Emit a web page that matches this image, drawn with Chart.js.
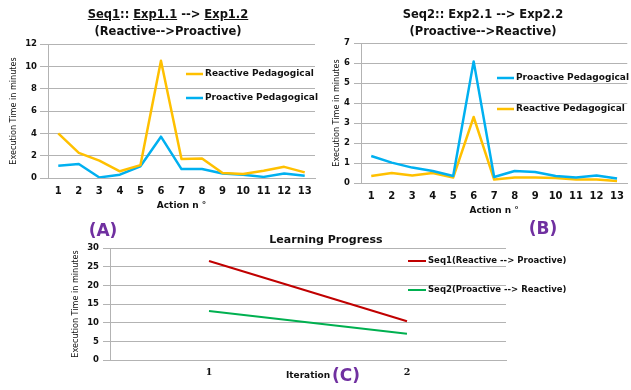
<!DOCTYPE html>
<html>
<head>
    <title>Execution time charts</title>
    <style>
        body { margin: 0; width: 631px; height: 390px; background: #fff; position: relative; overflow: hidden; font-family: 'DejaVu Sans', sans-serif; }
        .box { position: absolute; }
        .ttl { position: absolute; text-align: center; font-weight: bold; color: #111; white-space: nowrap; }
        .tag { position: absolute; text-align: center; font-weight: bold; color: #7030a0; font-size: 17px; line-height: 20px; }
    </style>
    <script src="https://cdn.jsdelivr.net/npm/chart.js@4.4.1/dist/chart.umd.min.js"></script>
</head>
<body>
    <div class="box" style="left:0;top:0"><canvas id="chartA" width="320" height="215"></canvas></div>
    <div class="box" style="left:320px;top:0"><canvas id="chartB" width="311" height="222"></canvas></div>
    <div class="box" style="left:60px;top:230px"><canvas id="chartC" width="571" height="160"></canvas></div>

    <div class="ttl" style="left:68px;top:6px;width:200px;font-size:11.5px;line-height:17px"><u>Seq1</u>:: <u>Exp1.1</u> --&gt; <u>Exp1.2</u><br>(Reactive--&gt;Proactive)</div>
    <div class="ttl" style="left:383px;top:6px;width:200px;font-size:11.5px;line-height:17px">Seq2:: Exp2.1 --&gt; Exp2.2<br>(Proactive--&gt;Reactive)</div>
    <div class="ttl" style="left:226px;top:233px;width:200px;font-size:11px;line-height:14px">Learning Progress</div>

    <div class="tag" style="left:73px;top:220px;width:60px">(A)</div>
    <div class="tag" style="left:513px;top:218px;width:60px">(B)</div>
    <div class="tag" style="left:316px;top:365px;width:60px">(C)</div>

    <script>
        // values (minutes)
        var actions = ['1', '2', '3', '4', '5', '6', '7', '8', '9', '10', '11', '12', '13'];
        var seq1Reactive = [4.0, 2.25, 1.55, 0.6, 1.15, 10.5, 1.7, 1.75, 0.45, 0.35, 0.65, 1.0, 0.5];
        var seq1Proactive = [1.1, 1.25, 0.05, 0.3, 1.05, 3.7, 0.8, 0.8, 0.4, 0.3, 0.1, 0.4, 0.2];
        var seq2Proactive = [1.35, 1.02, 0.77, 0.6, 0.35, 6.08, 0.3, 0.6, 0.55, 0.35, 0.27, 0.38, 0.22];
        var seq2Reactive = [0.35, 0.5, 0.37, 0.5, 0.27, 3.3, 0.17, 0.27, 0.28, 0.25, 0.18, 0.17, 0.1];
        var iterations = ['1', '2'];
        var seq1Progress = [26.5, 10.4];
        var seq2Progress = [13.1, 7.0];

        var orange = '#ffc000';
        var blue = '#00b0f0';
        var gridGray = '#b3b3b3';
        var ink = '#111';

        Chart.defaults.font.family = "'DejaVu Sans', sans-serif";
        Chart.defaults.color = ink;

        // legend drawn inside the plot, one row per dataset
        var inlineLegend = {
            id: 'inlineLegend',
            afterDraw: function (chart, args, opts) {
                var ctx = chart.ctx;
                ctx.save();
                ctx.font = opts.font;
                ctx.textBaseline = 'middle';
                chart.data.datasets.forEach(function (ds, i) {
                    var y = opts.y + i * opts.gap;
                    ctx.strokeStyle = ds.borderColor;
                    ctx.lineWidth = ds.borderWidth;
                    ctx.beginPath();
                    ctx.moveTo(opts.x, y);
                    ctx.lineTo(opts.x + opts.len, y);
                    ctx.stroke();
                    ctx.fillStyle = ink;
                    ctx.fillText(ds.label, opts.x + opts.len + 2, y);
                });
                ctx.restore();
            }
        };

        function line(label, data, color, width) {
            return {
                label: label, data: data, borderColor: color, backgroundColor: color,
                borderWidth: width, pointRadius: 0, tension: 0, fill: false, borderJoinStyle: 'round'
            };
        }

        var yTitleFont = { family: "'Liberation Sans Narrow', 'DejaVu Sans Condensed', sans-serif", size: 9 };

        function scales(o) {
            return {
                x: {
                    offset: true,
                    grid: { display: false, drawTicks: false, offset: true },
                    border: { display: true, color: gridGray },
                    ticks: { font: o.xFont, color: ink, padding: o.xPad, autoSkip: false, maxRotation: 0 },
                    title: { display: true, text: o.xTitle, color: ink, font: { weight: 'bold', size: 9 }, padding: { top: 0, bottom: o.xTitlePad } },
                    afterFit: function (s) { s.height = o.xHeight; }
                },
                y: {
                    min: 0, max: o.max,
                    grid: { color: gridGray, tickLength: o.tick },
                    border: { color: gridGray },
                    ticks: { stepSize: o.step, font: { weight: 'bold', size: 8.5 }, color: ink, padding: o.yPad },
                    title: { display: true, text: 'Execution Time in minutes', color: ink, font: yTitleFont, padding: { top: o.yTitlePad, bottom: 0 } },
                    afterFit: function (s) { s.width = o.yWidth; }
                }
            };
        }

        new Chart(document.getElementById('chartA'), {
            type: 'line',
            data: {
                labels: actions,
                datasets: [
                    line('Reactive Pedagogical', seq1Reactive, orange, 2.5),
                    line('Proactive Pedagogical', seq1Proactive, blue, 2.5)
                ]
            },
            options: {
                responsive: false, animation: false, devicePixelRatio: 1,
                layout: { padding: { top: 44, right: 5, left: 0, bottom: 0 } },
                scales: scales({ max: 12, step: 2, tick: 8, yPad: 3, yWidth: 48, yTitlePad: 8,
                    xFont: { weight: 'bold', size: 10 }, xPad: 7, xHeight: 37, xTitle: 'Action n °', xTitlePad: 4 }),
                plugins: {
                    legend: { display: false }, tooltip: { enabled: false },
                    inlineLegend: { x: 186, y: 74, gap: 24, len: 17, font: "bold 9px 'DejaVu Sans'" }
                }
            },
            plugins: [inlineLegend]
        });

        new Chart(document.getElementById('chartB'), {
            type: 'line',
            data: {
                labels: actions,
                datasets: [
                    line('Proactive Pedagogical', seq2Proactive, blue, 2.5),
                    line('Reactive Pedagogical', seq2Reactive, orange, 2.5)
                ]
            },
            options: {
                responsive: false, animation: false, devicePixelRatio: 1,
                layout: { padding: { top: 43, right: 0, left: 0, bottom: 0 } },
                scales: scales({ max: 7, step: 1, tick: 7, yPad: 4, yWidth: 41, yTitlePad: 11,
                    xFont: { weight: 'bold', size: 10 }, xPad: 7, xHeight: 39, xTitle: 'Action n °', xTitlePad: 6 }),
                plugins: {
                    legend: { display: false }, tooltip: { enabled: false },
                    inlineLegend: { x: 177, y: 78, gap: 31, len: 17, font: "bold 9px 'DejaVu Sans'" }
                }
            },
            plugins: [inlineLegend]
        });

        new Chart(document.getElementById('chartC'), {
            type: 'line',
            data: {
                labels: iterations,
                datasets: [
                    line('Seq1(Reactive --> Proactive)', seq1Progress, '#c00000', 2),
                    line('Seq2(Proactive --> Reactive)', seq2Progress, '#00b050', 2)
                ]
            },
            options: {
                responsive: false, animation: false, devicePixelRatio: 1,
                layout: { padding: { top: 18, right: 125, left: 0, bottom: 0 } },
                scales: scales({ max: 30, step: 5, tick: 7, yPad: 4, yWidth: 50, yTitlePad: 10,
                    xFont: { family: "'DejaVu Serif', serif", weight: 'bold', size: 9.5 }, xPad: 7, xHeight: 30, xTitle: 'Iteration', xTitlePad: 9 }),
                plugins: {
                    legend: { display: false }, tooltip: { enabled: false },
                    inlineLegend: { x: 348, y: 31, gap: 29, len: 18, font: "bold 8.5px 'DejaVu Sans'" }
                }
            },
            plugins: [inlineLegend]
        });
    </script>
</body>
</html>
